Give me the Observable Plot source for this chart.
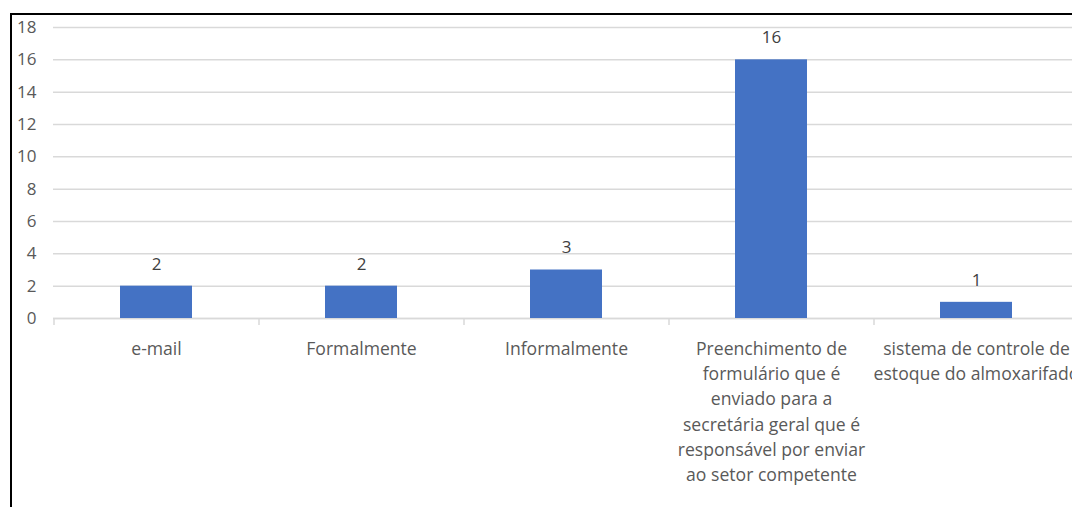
<!DOCTYPE html>
<html>
<head>
<meta charset="utf-8">
<script src="https://cdn.jsdelivr.net/npm/d3@7"></script>
<script src="https://cdn.jsdelivr.net/npm/@observablehq/plot@0.6"></script>
<style>
  html, body { margin: 0; padding: 0; background: #fff; overflow: hidden; }
  #wrap { position: relative; width: 1072px; height: 507px; overflow: hidden; }
  #frame { position: absolute; left: 10px; top: 13px; width: 2000px; height: 2000px;
           border-left: 2px solid #000; border-top: 2px solid #000; pointer-events: none; }
</style>
</head>
<body>
<div id="wrap"><div id="frame"></div></div>
<script>
const categories = [
  "e-mail",
  "Formalmente",
  "Informalmente",
  "Preenchimento de formulário que é enviado para a secretária geral que é responsável por enviar ao setor competente",
  "sistema de controle de estoque do almoxarifado"
];
const values = [2, 2, 3, 16, 1];
const tickLabels = [
  "e-mail",
  "Formalmente",
  "Informalmente",
  "Preenchimento de\nformulário que é\nenviado para a\nsecretária geral que é\nresponsável por enviar\nao setor competente",
  "sistema de controle de\nestoque do almoxarifado"
];
const yTicks = [0, 2, 4, 6, 8, 10, 12, 14, 16, 18];

const data = categories.map((c, i) => ({category: c, value: values[i]}));
const labelOf = new Map(categories.map((c, i) => [c, tickLabels[i]]));

const W = 1072, H = 507;
const mLeft = 53, mRight = -6;
const bandW = (W - mRight - mLeft) / categories.length;
const font = "'Open Sans', sans-serif";

const chart = Plot.plot({
  width: W,
  height: H,
  marginLeft: mLeft,
  marginRight: mRight,
  marginTop: 27,
  marginBottom: 189,
  style: {fontFamily: font, background: "transparent", overflow: "visible"},
  x: {domain: categories, paddingInner: 0.65, paddingOuter: 0.325, align: 0.5},
  y: {domain: [0, 18]},
  marks: [
    Plot.gridY(yTicks, {stroke: "#d9d9d9", strokeOpacity: 1, strokeWidth: 1.5}),
    Plot.axisY({ticks: yTicks, tickSize: 0, tickPadding: 17, label: null,
                fontSize: 17, fill: "#595959"}),
    Plot.axisX({tickSize: 7, dx: -bandW / 2, text: null, label: null, stroke: "#d9d9d9", strokeWidth: 1.5}),
    Plot.axisX({tickSize: 0, tickPadding: 18, label: null, tickFormat: d => labelOf.get(d),
                fontSize: 17.6, fill: "#595959", lineHeight: 1.44}),
    Plot.ruleY([0], {stroke: "#d9d9d9", strokeWidth: 1.5}),
    Plot.barY(data, {x: "category", y: "value", fill: "#4472C4"}),
    Plot.text(data, {x: "category", y: "value", text: d => String(d.value), dy: -22,
                     lineAnchor: "middle", fontSize: 17, fill: "#404040"})
  ]
});
chart.style.position = "absolute";
chart.style.left = "0px";
chart.style.top = "0px";
document.getElementById("wrap").insertBefore(chart, document.getElementById("frame"));
</script>
</body>
</html>
